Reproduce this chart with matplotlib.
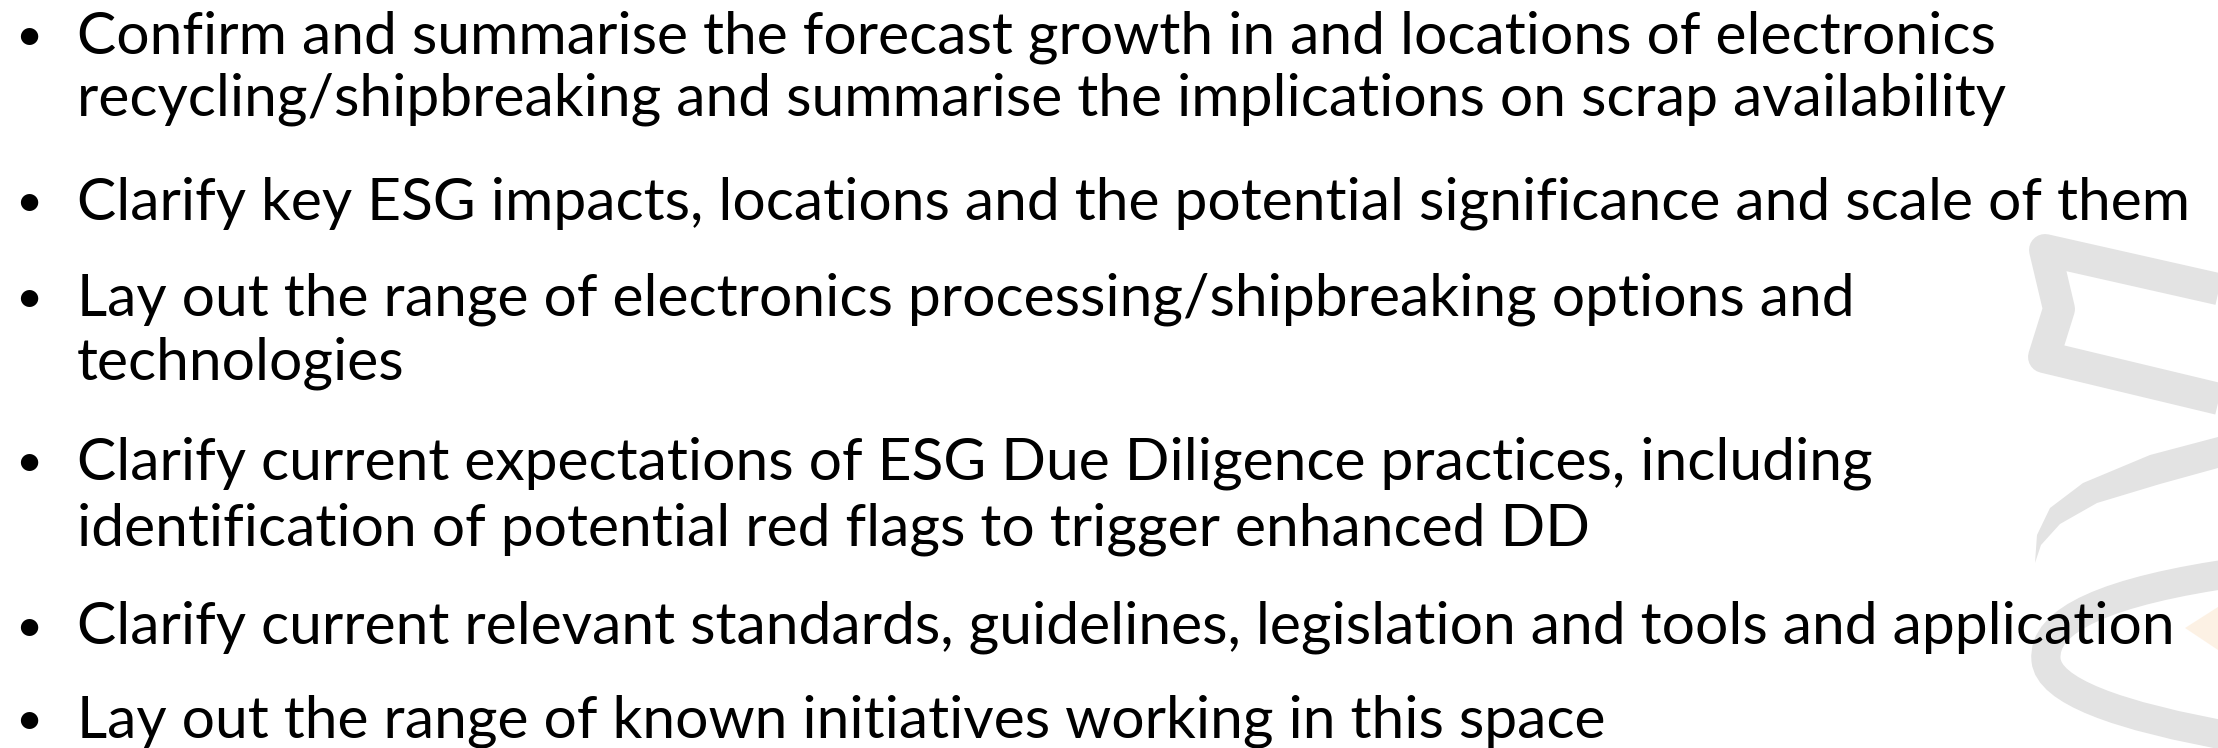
import numpy as np
import matplotlib
matplotlib.use('Agg')
import matplotlib.pyplot as plt
from matplotlib.path import Path
from matplotlib.patches import PathPatch, Polygon

# slide text, one entry per printed line
lines = [
    "Confirm and summarise the forecast growth in and locations of electronics",
    "recycling/shipbreaking and summarise the implications on scrap availability",
    "Clarify key ESG impacts, locations and the potential significance and scale of them",
    "Lay out the range of electronics processing/shipbreaking options and",
    "technologies",
    "Clarify current expectations of ESG Due Diligence practices, including",
    "identification of potential red flags to trigger enhanced DD",
    "Clarify current relevant standards, guidelines, legislation and tools and application",
    "Lay out the range of known initiatives working in this space",
]
# True where a new bullet starts
bullet_start = [True, False, True, True, False, True, False, True, True]
# baselines in pixels from the top
baselines = [53, 116, 219, 315, 379, 479, 545, 644, 737]

W, H = 2218, 748
fig = plt.figure(figsize=(W / 100, H / 100), dpi=100)
fig.patch.set_facecolor('white')

# watermark logo (light grey) in a full-size axes
ax = fig.add_axes([0, 0, 1, 1])
ax.set_xlim(0, W)
ax.set_ylim(H, 0)
ax.axis('off')
grey = '#e3e3e3'

# ribbon outline
rib = np.array([(2240, 294), (2045, 250), (2059, 309), (2044, 357), (2240, 404)])
ax.plot(rib[:, 0], rib[:, 1], color=grey, lw=23, solid_joinstyle='round', solid_capstyle='butt')

# crescent band
outer = [(2218, 437), (2150, 455), (2083, 483), (2050, 508), (2037, 535), (2035, 563)]
inner = [(2041, 545), (2060, 524), (2097, 503), (2160, 484), (2218, 468)]
ax.add_patch(Polygon(outer + inner, closed=True, facecolor=grey, edgecolor='none'))

# U shaped band
u_path = Path([(2240, 572), (2040, 600), (2046, 660), (2050, 705), (2240, 738)],
              [Path.MOVETO, Path.CURVE3, Path.CURVE3, Path.CURVE3, Path.CURVE3])
ax.add_patch(PathPatch(u_path, fill=False, edgecolor=grey, lw=21, capstyle='butt'))

# faint orange tip
ax.add_patch(Polygon([(2218, 607), (2185, 628), (2218, 650)], closed=True,
                     facecolor='#fcecd9', edgecolor='none', alpha=0.7))

# text, size fitted to the widest line
renderer = fig.canvas.get_renderer()
probe = fig.text(0, 0, lines[2], fontsize=40, family='Lato')
w = probe.get_window_extent(renderer).width
probe.remove()
fs = 40 * 2110 / w

text_x = 77
bullet_x = 15
for txt, start, b in zip(lines, bullet_start, baselines):
    y = 1 - b / H
    fig.text(text_x / W, y, txt, fontsize=fs, family='Lato', color='black', va='baseline')
    if start:
        fig.text(bullet_x / W, 1 - (b - 3) / H, '\u2022', fontsize=fs * 0.8, family='Lato',
                 color='black', va='baseline')

fig.savefig('out.png', dpi=100)
plt.close()
